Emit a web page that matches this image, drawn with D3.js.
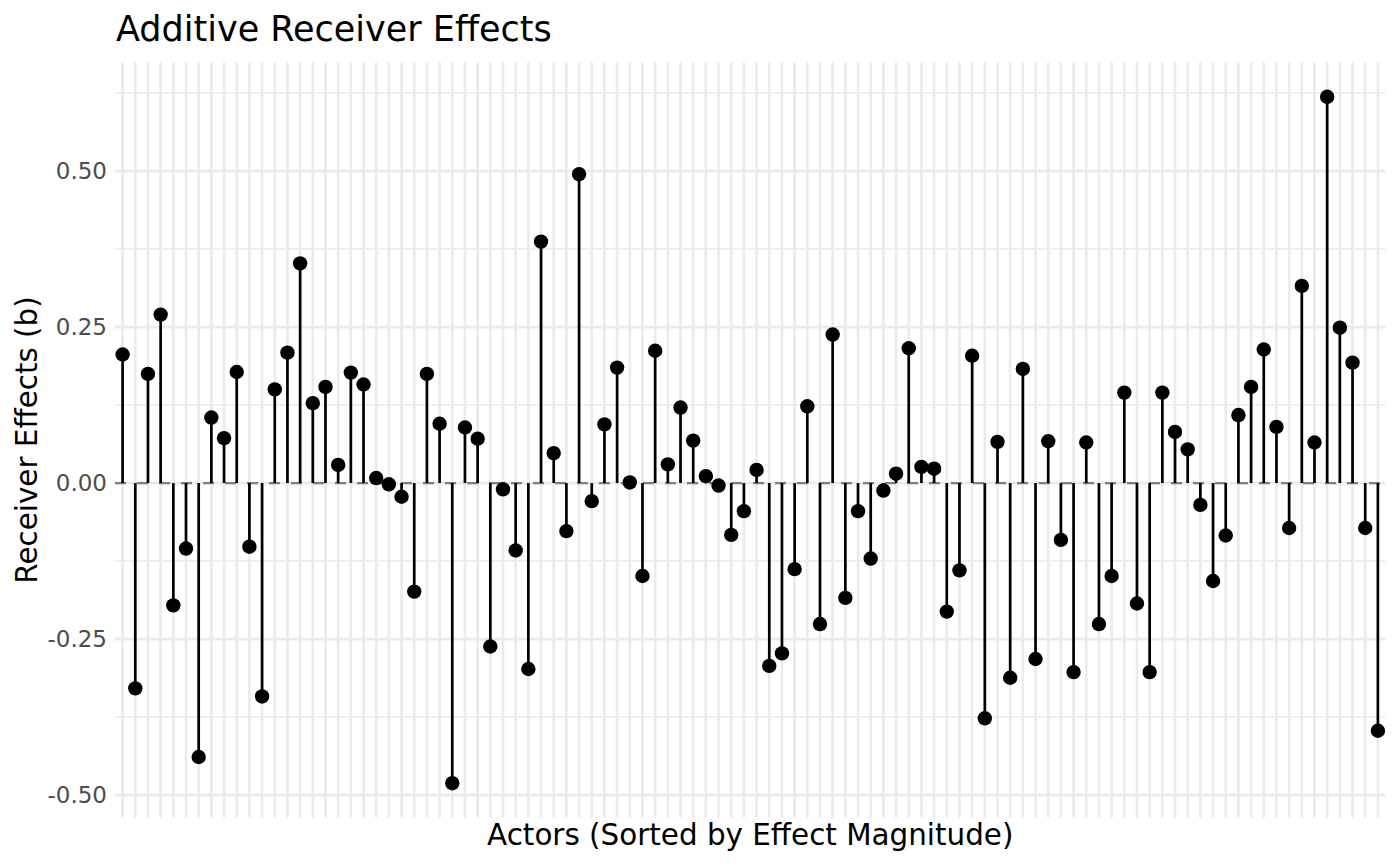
<!DOCTYPE html>
<html>
<head>
<meta charset="utf-8">
<script src="https://cdn.jsdelivr.net/npm/d3@7"></script>
<style>
  body { margin: 0; background: white; }
  text { font-family: "DejaVu Sans", sans-serif; }
</style>
</head>
<body>
<div id="svg-container"></div>
<script>
// receiver effect per actor, in plotted order
var effects = [
  0.206, -0.329, 0.175, 0.270, -0.196, -0.105, -0.439, 0.105, 0.072, 0.178,
  -0.102, -0.342, 0.150, 0.209, 0.352, 0.128, 0.154, 0.029, 0.177, 0.158,
  0.008, -0.002, -0.022, -0.174, 0.175, 0.095, -0.481, 0.089, 0.071, -0.262,
  -0.010, -0.108, -0.298, 0.387, 0.048, -0.077, 0.495, -0.029, 0.094, 0.185,
  0.001, -0.149, 0.212, 0.030, 0.121, 0.068, 0.011, -0.004, -0.083, -0.045,
  0.021, -0.293, -0.273, -0.138, 0.123, -0.226, 0.238, -0.184, -0.045, -0.121,
  -0.012, 0.015, 0.216, 0.026, 0.023, -0.206, -0.140, 0.204, -0.377, 0.066,
  -0.312, 0.183, -0.282, 0.067, -0.091, -0.303, 0.065, -0.226, -0.149, 0.145,
  -0.193, -0.303, 0.145, 0.082, 0.054, -0.035, -0.157, -0.084, 0.109, 0.154,
  0.214, 0.090, -0.072, 0.316, 0.065, 0.619, 0.249, 0.193, -0.072, -0.397
];
var actors = effects.map(function(d, i) { return 'A' + (i + 1); });

var yTicks = [-0.5, -0.25, 0, 0.25, 0.5];
var yTickLabels = ['-0.50', '-0.25', '0.00', '0.25', '0.50'];
var yMinor = [-0.375, -0.125, 0.125, 0.375, 0.625];

var w = 1400;
var h = 866;
var panel = {left: 115, right: 1385.5, top: 62.5, bottom: 817.5};

var svg = d3.select('#svg-container')
  .append('svg')
  .attr('width', w)
  .attr('height', h)
  .style('background', 'white');

var data = actors.map(function(a, i) { return {actor: a, value: effects[i]}; });

// discrete x with ggplot-like 0.6 expansion
var x = d3.scalePoint()
  .domain(actors)
  .range([panel.left, panel.right])
  .padding(0.6);

var ext = d3.extent(effects);
var pad = (ext[1] - ext[0]) * 0.05;
var y = d3.scaleLinear()
  .domain([ext[0] - pad, ext[1] + pad])
  .range([panel.bottom, panel.top]);

// grid
var grid = svg.append('g');

grid.selectAll('.minor')
  .data(yMinor.filter(function(v) { return v >= y.domain()[0] && v <= y.domain()[1]; }))
  .enter().append('line')
  .attr('x1', panel.left).attr('x2', panel.right)
  .attr('y1', function(d) { return y(d); })
  .attr('y2', function(d) { return y(d); })
  .style('stroke', '#ebebeb')
  .style('stroke-width', 1.4);

grid.selectAll('.major')
  .data(yTicks)
  .enter().append('line')
  .attr('x1', panel.left).attr('x2', panel.right)
  .attr('y1', function(d) { return y(d); })
  .attr('y2', function(d) { return y(d); })
  .style('stroke', '#ebebeb')
  .style('stroke-width', 2.7);

grid.selectAll('.vert')
  .data(actors)
  .enter().append('line')
  .attr('x1', function(d) { return x(d); })
  .attr('x2', function(d) { return x(d); })
  .attr('y1', panel.top).attr('y2', panel.bottom)
  .style('stroke', '#ebebeb')
  .style('stroke-width', 2.7);

// y axis labels (no axis line, no ticks)
var yAxis = d3.axisLeft(y)
  .tickValues(yTicks)
  .tickFormat(function(d, i) { return yTickLabels[i]; })
  .tickSize(0)
  .tickPadding(8);

var yg = svg.append('g')
  .attr('transform', 'translate(' + panel.left + ',0)')
  .call(yAxis);
yg.select('.domain').remove();
yg.selectAll('text')
  .attr('font-family', '"DejaVu Sans", sans-serif')
  .attr('font-size', '23px')
  .style('fill', '#4d4d4d');

// zero reference line
svg.append('line')
  .attr('x1', panel.left).attr('x2', panel.right)
  .attr('y1', y(0)).attr('y2', y(0))
  .style('stroke', '#808080')
  .style('stroke-width', 2.2)
  .style('stroke-dasharray', '11,11');

// stems
svg.append('g').selectAll('line')
  .data(data)
  .enter().append('line')
  .attr('x1', function(d) { return x(d.actor); })
  .attr('x2', function(d) { return x(d.actor); })
  .attr('y1', y(0))
  .attr('y2', function(d) { return y(d.value); })
  .style('stroke', 'black')
  .style('stroke-width', 2.7);

// heads
svg.append('g').selectAll('circle')
  .data(data)
  .enter().append('circle')
  .attr('cx', function(d) { return x(d.actor); })
  .attr('cy', function(d) { return y(d.value); })
  .attr('r', 7.2)
  .style('fill', 'black');

// titles
svg.append('text')
  .text('Additive Receiver Effects')
  .attr('x', panel.left + 1)
  .attr('y', 41)
  .attr('font-size', '35px')
  .style('fill', 'black');

svg.append('text')
  .text('Actors (Sorted by Effect Magnitude)')
  .attr('x', (panel.left + panel.right) / 2)
  .attr('y', 845)
  .attr('text-anchor', 'middle')
  .attr('font-size', '29.4px')
  .style('fill', 'black');

svg.append('text')
  .text('Receiver Effects (b)')
  .attr('transform', 'translate(37,' + (panel.top + panel.bottom) / 2 + ') rotate(-90)')
  .attr('text-anchor', 'middle')
  .attr('font-size', '29.4px')
  .style('fill', 'black');
</script>
</body>
</html>
